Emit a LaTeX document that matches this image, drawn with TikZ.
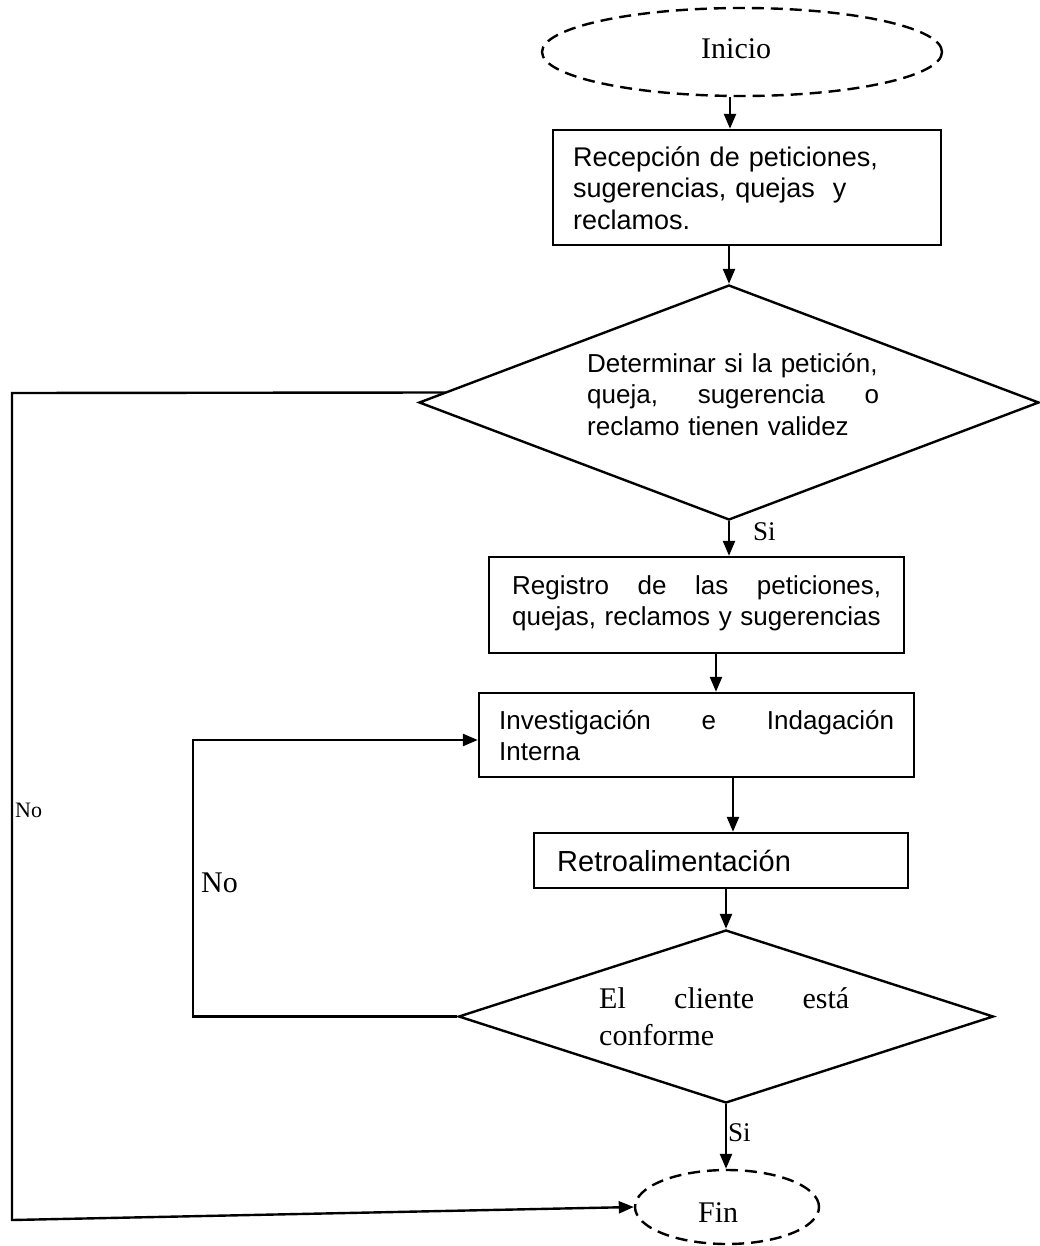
\documentclass[tikz,border=0pt]{standalone}
\usepackage{fontspec}
\setmainfont{Liberation Serif}
\setsansfont{Liberation Sans}
\usetikzlibrary{shapes.geometric,arrows.meta,calc}

% one justified line of a fixed width
\newcommand{\fullline}[2]{\leavevmode\hbox to #1{#2}}

\begin{document}
\begin{tikzpicture}[x=1pt,y=-1pt,
  line width=2.4pt,
  arr/.style={-{Triangle[length=15pt,width=12pt]}},
  terminal/.style={draw, ellipse, inner sep=0pt, dash pattern=on 12pt off 7pt},
  procbox/.style={draw, rectangle, inner sep=0pt},
  decision/.style={draw, diamond, inner sep=0pt},
  sanstext/.style={inner sep=0pt, anchor=north west, align=left,
    font=\sffamily\fontsize{26}{31.5}\selectfont},
  seriftext/.style={inner sep=0pt, anchor=north west, align=left,
    font=\rmfamily\fontsize{30}{37}\selectfont},
  serifword/.style={inner sep=0pt, anchor=base west, font=\rmfamily\fontsize{30}{36}\selectfont},
  branchlabel/.style={inner sep=0pt, anchor=base west, font=\rmfamily\fontsize{27}{32}\selectfont},
]
\useasboundingbox (0,0) rectangle (1039,1246);

% shapes of the flow
\node[terminal, minimum width=400pt, minimum height=88pt] (inicio) at (742,52) {};
\node[procbox, minimum width=388pt, minimum height=115pt] (recep) at (747,187.5) {};
\node[decision, minimum width=620pt, minimum height=235pt] (valid) at (729,402.5) {};
\node[procbox, minimum width=415pt, minimum height=96pt] (regis) at (696.5,605) {};
\node[procbox, minimum width=435pt, minimum height=84pt] (inves) at (696.5,735) {};
\node[procbox, minimum width=374pt, minimum height=55pt] (retro) at (721,860.5) {};
\node[decision, minimum width=535pt, minimum height=173pt] (conf) at (726,1016.5) {};
\node[terminal, minimum width=184pt, minimum height=74pt] (fin) at (727,1207) {};

% texts
\node[serifword] (inicioT) at (700,59) {Inicio};
\node[sanstext, text width=330pt, font=\sffamily\fontsize{27}{31.5}\selectfont]
  (recepT) at (572,143)
  {\strut Recepción de peticiones,\\ sugerencias, quejas\ \ y\\ reclamos.};
\node[sanstext, text width=292pt] (validT) at (586,349)
  {\strut Determinar si la petición,\\
   \fullline{292pt}{queja,\hfill sugerencia\hfill o}\\
   reclamo tienen validez};
\node[sanstext, text width=369pt] (regisT) at (511,571)
  {\strut\fullline{369pt}{Registro\hfill de\hfill las\hfill peticiones,}\\
   quejas, reclamos y sugerencias};
\node[sanstext, text width=395pt] (invesT) at (498,706)
  {\strut\fullline{395pt}{Investigación\hfill e\hfill Indagación}\\ Interna};
\node[inner sep=0pt, anchor=base west, font=\sffamily\fontsize{29}{34}\selectfont]
  (retroT) at (556,871) {Retroalimentación};
\node[seriftext, text width=250pt] (confT) at (598,981)
  {\strut\fullline{250pt}{El\hfill cliente\hfill está}\\ conforme};
\node[serifword] (finT) at (697,1222) {Fin};

% branch labels
\node[branchlabel] (si1) at (752,540) {Si};
\node[branchlabel] (si2) at (727,1141) {Si};
\node[serifword] (no2) at (200,892) {No};
\node[inner sep=0pt, anchor=base west, font=\rmfamily\fontsize{22}{26}\selectfont]
  (no1) at (14,817) {No};

% main flow
\draw[arr] (inicio.south -| 730,0) -- (recep.north -| 730,0);
\draw[arr] (recep.south -| valid.north) -- (valid.north);
\draw[arr] (valid.south) -- (valid.south |- regis.north);
\draw[arr] (regis.south -| 716,0) -- (inves.north -| 716,0);
\draw[arr] (inves.south -| 733,0) -- (retro.north -| 733,0);
\draw[arr] (retro.south -| conf.north) -- (conf.north);
\draw[arr] (conf.south) -- (fin.north -| conf.south);

% rejected request goes straight to the end
\coordinate (noTop) at (12,393);
\coordinate (noBot) at (12,1220);
\draw[arr] ($(valid.west)+(27,-10)$) -- (noTop) -- (noBot) -- (fin.west);

% unsatisfied client goes back to the investigation
\coordinate (loopB) at (193,1016.5);
\coordinate (loopT) at (193,740);
\draw[arr] (conf.west) -- (loopB) -- (loopT) -- (loopT -| inves.west);
\end{tikzpicture}
\end{document}
